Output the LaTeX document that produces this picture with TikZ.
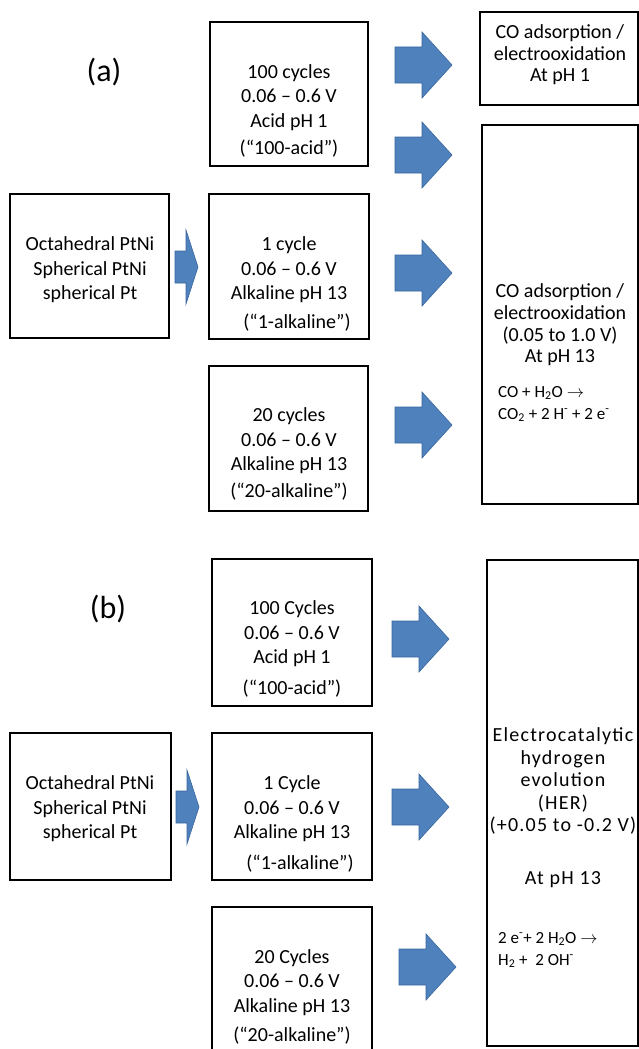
\documentclass[tikz,border=0pt]{standalone}
\usepackage{fontspec}
\setmainfont{Carlito}
\definecolor{arrowblue}{RGB}{79,129,189}
\definecolor{arrowedge}{RGB}{58,103,160}
\begin{document}
\begin{tikzpicture}[x=1pt,y=-1pt,
  box/.style={draw=black, line width=1.8pt, inner sep=0pt},
  txt/.style={align=center, inner sep=0pt, font=\fontsize{20}{24.5}\selectfont},
  txtsm/.style={align=center, inner sep=0pt, font=\fontsize{20}{21.6}\selectfont},
  rxn/.style={align=left, inner sep=0pt, anchor=west, font=\fontsize{17}{22}\selectfont},
  lab/.style={inner sep=0pt, font=\fontsize{32}{38}\selectfont},
  barrow/.style={fill=arrowblue, draw=arrowedge, line width=0.6pt, line join=miter},
  pics/bigarrow/.style={code={
    \draw[barrow] (0,-18) -- (27,-18) -- (27,-33) -- (57,0) -- (27,33) -- (27,18) -- (0,18) -- cycle;}},
  pics/smallarrow/.style={code={
    \draw[barrow] (0,-16) -- (11,-16) -- (11,-37) -- (23,0) -- (11,37) -- (11,16) -- (0,16) -- cycle;}}
]
\useasboundingbox (0,0) rectangle (639,1049);
\fill[white] (0,0) rectangle (639,1049);

% ---------------- (a) ----------------
\node[lab] (labA) at (104,72) {(a)};

\node[box, minimum width=158pt, minimum height=93pt]  (topR)  at (559,58.5) {};
\node[box, minimum width=156pt, minimum height=379pt] (bigA)  at (560,314.5) {};
\node[box, minimum width=158pt, minimum height=144pt] (A1)    at (289,94) {};
\node[box, minimum width=160pt, minimum height=145pt] (A2)    at (289,266.5) {};
\node[box, minimum width=159pt, minimum height=145pt] (A3)    at (288.5,438.5) {};
\node[box, minimum width=159pt, minimum height=144pt] (leftA) at (89.5,266) {};

\node[txt] (A1t) at (289,111) {100 cycles\\0.06 – 0.6 V\\Acid pH 1\\[3pt](“100-acid”)};
\node[txt] (A2t) at (289,284) {1 cycle\\0.06 – 0.6 V\\Alkaline pH 13\\[4pt]\hspace*{16pt}(“1-alkaline”)};
\node[txt] (A3t) at (289,454) {20 cycles\\0.06 – 0.6 V\\Alkaline pH 13\\[2pt](“20-alkaline”)};
\node[txt] (leftAt) at (90,270) {Octahedral PtNi\\Spherical PtNi\\spherical Pt};
\node[txtsm] (topRt) at (560,55) {CO adsorption /\\electrooxidation\\At pH 1};
\node[txtsm] (bigAt) at (560,325) {CO adsorption /\\electrooxidation\\(0.05 to 1.0 V)\\At pH 13};
\node[rxn] (rxnA) at (498,404) {CO + H\textsubscript{2}O $\rightarrow$\\CO\textsubscript{2} + 2 H\textsuperscript{-} + 2 e\textsuperscript{-}};

\pic (arA1) at (395,65) {bigarrow};
\pic (arA2) at (395,155) {bigarrow};
\pic (arA3) at (395,273) {bigarrow};
\pic (arA4) at (395,425) {bigarrow};
\pic (arA0) at (175,267) {smallarrow};

% ---------------- (b) ----------------
\node[lab] (labB) at (108,609) {(b)};

\node[box, minimum width=151pt, minimum height=486pt] (bigB)  at (562.5,803) {};
\node[box, minimum width=160pt, minimum height=147pt] (B1)    at (292,632.5) {};
\node[box, minimum width=160pt, minimum height=147pt] (B2)    at (292,806.5) {};
\node[box, minimum width=160pt, minimum height=155pt] (B3)    at (292,984.5) {};
\node[box, minimum width=161pt, minimum height=147pt] (leftB) at (90.5,806.5) {};

\node[txt] (B1t) at (292,649) {100 Cycles\\0.06 – 0.6 V\\Acid pH 1\\[6pt](“100-acid”)};
\node[txt] (B2t) at (292,824) {1 Cycle\\0.06 – 0.6 V\\Alkaline pH 13\\[6pt]\hspace*{16pt}(“1-alkaline”)};
\node[txt] (B3t) at (292,997) {20 Cycles\\0.06 – 0.6 V\\Alkaline pH 13\\[5pt](“20-alkaline”)};
\node[txt] (leftBt) at (90,809) {Octahedral PtNi\\Spherical PtNi\\spherical Pt};
\node[align=center, inner sep=0pt, font=\fontsize{20}{22.5}\selectfont\addfontfeature{LetterSpace=6}] (bigBt) at (563,808)
  {Electrocatalytic\\hydrogen\\evolution\\(HER)\\(+0.05 to -0.2 V)\\[30.5pt]At pH 13};
\node[rxn] (rxnB) at (498,950) {2 e\textsuperscript{-}+ 2 H\textsubscript{2}O $\rightarrow$\\H\textsubscript{2} + \ 2 OH\textsuperscript{-}};

\pic (arB1) at (392,639) {bigarrow};
\pic (arB2) at (392,807) {bigarrow};
\pic (arB3) at (399,967) {bigarrow};
\pic (arB0) at (176,807) {smallarrow};
\end{tikzpicture}
\end{document}
